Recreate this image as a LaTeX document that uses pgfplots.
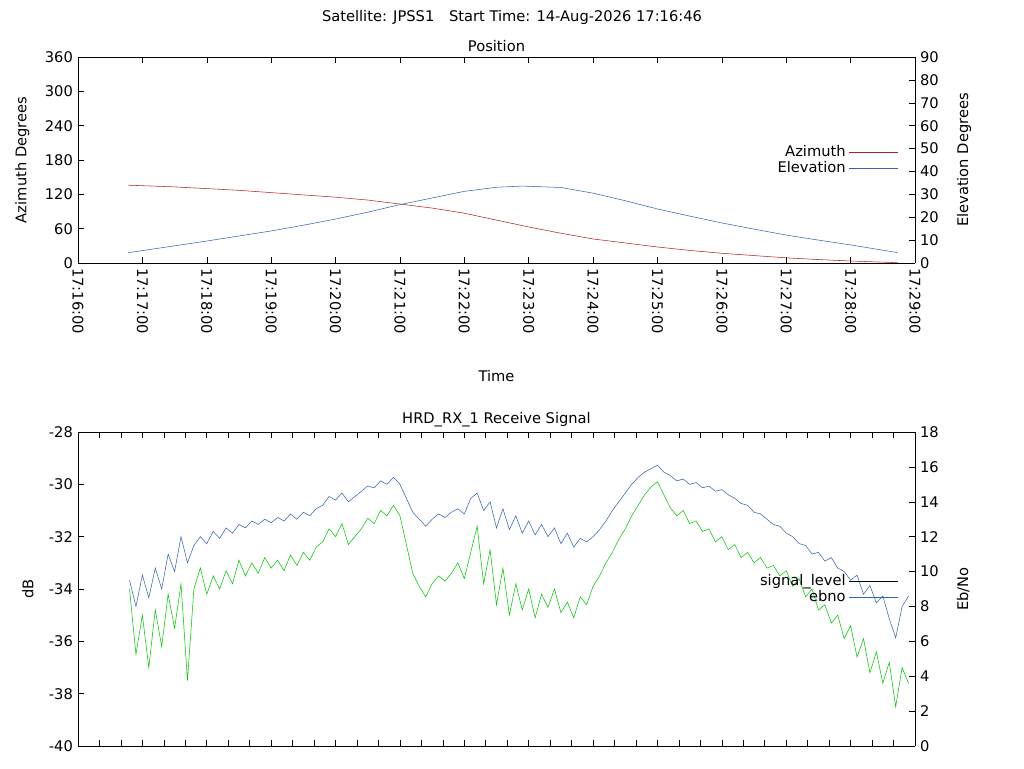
\documentclass[border=0pt]{standalone}
\usepackage{pgfplots}
\pgfplotsset{compat=1.18}
\usepackage{fontspec}
\setmainfont{DejaVu Sans}
\definecolor{az}{RGB}{178,34,34}
\definecolor{el}{RGB}{50,100,180}
\definecolor{gr}{RGB}{0,200,0}
\begin{document}
\fontsize{11}{13}\selectfont
\begin{tikzpicture}
\path (0,0) rectangle (768pt,576pt);
\node at (384pt,563pt) {Satellite: JPSS1\quad Start Time: 14-Aug-2026 17:16:46};
\pgfplotsset{every axis/.append style={scale only axis, width=627.75pt, xmin=0, xmax=13,
  tick style={black,thin}, font=\fontsize{11}{13}\selectfont,
  /pgf/number format/assume math mode=true, tick align=inside,
  legend image code/.code={\draw[#1] (0pt,0pt)--(37pt,0pt);}}}
% top
\begin{axis}[at={(58.5pt,378.75pt)}, height=154.5pt, ymin=0, ymax=360, ytick={0,60,...,360},
  axis y line*=left, xtick={0,...,13},
  xticklabels={17:16:00,17:17:00,17:18:00,17:19:00,17:20:00,17:21:00,17:22:00,17:23:00,17:24:00,17:25:00,17:26:00,17:27:00,17:28:00,17:29:00},
  xticklabel style={rotate=-90,anchor=west}, xlabel={Time}, xlabel style={yshift=-20pt},
  ylabel={Azimuth Degrees}, ylabel style={yshift=4pt}, title={Position}, title style={yshift=-6pt}]
\addplot[az, thin] coordinates {(0.78,136)(1.5,133)(2,130)(2.5,127)(3,123)(3.5,119)(4,115)(4.5,110)(5,103)(5.5,96)(6,87)(6.5,75)(7,63)(7.5,52)(8,42)(8.5,35)(9,28)(9.5,22)(10,17)(10.5,13)(11,9)(11.5,6)(12,3.5)(12.5,1.5)(12.73,0.5)};
\end{axis}
\begin{axis}[at={(58.5pt,378.75pt)}, height=154.5pt, ymin=0, ymax=90, ytick={0,10,...,90},
  axis y line*=right, axis x line=none, ylabel={Elevation Degrees}, ylabel style={yshift=-6pt},
  legend style={draw=none, fill=none, at={(0.985,0.5)}, anchor=east, font=\fontsize{11}{13}\selectfont, row sep=-2pt},
  legend cell align=right, legend plot pos=right]
\addlegendimage{az, thin}\addlegendentry{Azimuth}
\addplot[el, thin] coordinates {(0.78,4.5)(1.5,7.5)(2,9.6)(2.5,11.8)(3,14)(3.5,16.5)(4,19.2)(4.5,22.2)(5,25.5)(5.5,28.4)(6,31.3)(6.5,33.1)(6.9,33.6)(7.5,33)(8,30.5)(8.5,27.2)(9,23.6)(9.5,20.5)(10,17.5)(10.5,14.8)(11,12.2)(11.5,10)(12,7.9)(12.5,5.6)(12.73,4.5)};
\addlegendentry{Elevation}
\end{axis}
% bottom
\begin{axis}[at={(58.5pt,16.5pt)}, height=235.5pt, ymin=-40, ymax=-28, ytick={-40,-38,...,-28},
  axis y line*=left, xtick={0,0.3333,...,13.1}, xticklabels={}, ylabel={dB}, ylabel style={yshift=4pt},
  title={HRD\_RX\_1 Receive Signal}, title style={yshift=-6pt}]
\addplot[gr, thin] coordinates {(0.8,-34.0)(0.9,-36.5)(1.0,-35.0)(1.1,-37.0)(1.2,-34.8)(1.3,-36.2)(1.4,-34.2)(1.5,-35.5)(1.6,-33.8)(1.7,-37.5)(1.8,-34.0)(1.9,-33.2)(2.0,-34.2)(2.1,-33.5)(2.2,-34.0)(2.3,-33.3)(2.4,-33.8)(2.5,-32.9)(2.6,-33.5)(2.7,-33.0)(2.8,-33.4)(2.9,-32.8)(3.0,-33.2)(3.1,-32.9)(3.2,-33.3)(3.3,-32.7)(3.4,-33.1)(3.5,-32.6)(3.6,-32.9)(3.7,-32.4)(3.8,-32.2)(3.9,-31.7)(4.0,-32.0)(4.1,-31.5)(4.2,-32.3)(4.3,-32.0)(4.4,-31.7)(4.5,-31.3)(4.6,-31.5)(4.7,-31.0)(4.8,-31.2)(4.9,-30.8)(5.0,-31.2)(5.1,-32.3)(5.2,-33.4)(5.3,-33.9)(5.4,-34.3)(5.5,-33.8)(5.6,-33.5)(5.7,-33.7)(5.8,-33.4)(5.9,-33.0)(6.0,-33.6)(6.1,-32.6)(6.2,-31.6)(6.3,-33.8)(6.4,-32.5)(6.5,-34.6)(6.6,-33.2)(6.7,-35.0)(6.8,-33.8)(6.9,-34.8)(7.0,-34.0)(7.1,-35.1)(7.2,-34.2)(7.3,-34.7)(7.4,-34.0)(7.5,-34.9)(7.6,-34.5)(7.7,-35.1)(7.8,-34.3)(7.9,-34.6)(8.0,-33.9)(8.1,-33.5)(8.2,-33.0)(8.3,-32.6)(8.4,-32.1)(8.5,-31.7)(8.6,-31.2)(8.7,-30.8)(8.8,-30.4)(8.9,-30.1)(9.0,-29.9)(9.1,-30.4)(9.2,-30.9)(9.3,-31.2)(9.4,-31.0)(9.5,-31.5)(9.6,-31.4)(9.7,-31.8)(9.8,-31.7)(9.9,-32.2)(10.0,-32.0)(10.1,-32.5)(10.2,-32.3)(10.3,-32.8)(10.4,-32.6)(10.5,-33.0)(10.6,-32.8)(10.7,-33.2)(10.8,-33.1)(10.9,-33.5)(11.0,-33.3)(11.1,-33.9)(11.2,-33.6)(11.3,-34.3)(11.4,-34.0)(11.5,-34.8)(11.6,-34.6)(11.7,-35.3)(11.8,-35.0)(11.9,-35.9)(12.0,-35.4)(12.1,-36.6)(12.2,-35.9)(12.3,-37.2)(12.4,-36.4)(12.5,-37.6)(12.6,-36.8)(12.7,-38.5)(12.8,-37.0)(12.9,-37.6)};
\end{axis}
\begin{axis}[at={(58.5pt,16.5pt)}, height=235.5pt, ymin=0, ymax=18, ytick={0,2,...,18},
  axis y line*=right, axis x line=none, ylabel={Eb/No}, ylabel style={yshift=-6pt},
  legend style={draw=none, fill=none, at={(0.985,0.5)}, anchor=east, font=\fontsize{11}{13}\selectfont, row sep=-2pt},
  legend cell align=right, legend plot pos=right]
\addlegendimage{black, thin}\addlegendentry{signal\_level}
\addplot[el, thin] coordinates {(0.8,9.5)(0.9,8.0)(1.0,9.8)(1.1,8.5)(1.2,10.2)(1.3,9.0)(1.4,11.0)(1.5,10.0)(1.6,12.0)(1.7,10.5)(1.8,11.5)(1.9,12.0)(2.0,11.6)(2.1,12.3)(2.2,11.9)(2.3,12.5)(2.4,12.2)(2.5,12.7)(2.6,12.5)(2.7,12.9)(2.8,12.7)(2.9,13.0)(3.0,12.8)(3.1,13.1)(3.2,12.9)(3.3,13.3)(3.4,13.0)(3.5,13.4)(3.6,13.2)(3.7,13.6)(3.8,13.8)(3.9,14.3)(4.0,14.1)(4.1,14.5)(4.2,14.0)(4.3,14.3)(4.4,14.6)(4.5,14.9)(4.6,14.8)(4.7,15.2)(4.8,15.0)(4.9,15.4)(5.0,15.0)(5.1,14.2)(5.2,13.4)(5.3,13.0)(5.4,12.6)(5.5,13.0)(5.6,13.3)(5.7,13.1)(5.8,13.4)(5.9,13.6)(6.0,13.3)(6.1,14.2)(6.2,14.5)(6.3,13.5)(6.4,14.0)(6.5,12.5)(6.6,13.6)(6.7,12.4)(6.8,13.2)(6.9,12.2)(7.0,12.9)(7.1,12.1)(7.2,12.7)(7.3,12.0)(7.4,12.5)(7.5,11.6)(7.6,12.2)(7.7,11.4)(7.8,11.9)(7.9,11.7)(8.0,12.0)(8.1,12.4)(8.2,12.9)(8.3,13.5)(8.4,14.0)(8.5,14.5)(8.6,15.0)(8.7,15.4)(8.8,15.7)(8.9,15.9)(9.0,16.1)(9.1,15.7)(9.2,15.5)(9.3,15.2)(9.4,15.3)(9.5,15.0)(9.6,15.1)(9.7,14.8)(9.8,14.9)(9.9,14.6)(10.0,14.7)(10.1,14.4)(10.2,14.2)(10.3,13.9)(10.4,13.8)(10.5,13.4)(10.6,13.3)(10.7,13.0)(10.8,12.7)(10.9,12.6)(11.0,12.2)(11.1,12.0)(11.2,11.6)(11.3,11.5)(11.4,11.0)(11.5,11.1)(11.6,10.6)(11.7,10.8)(11.8,10.2)(11.9,10.0)(12.0,9.5)(12.1,9.8)(12.2,8.7)(12.3,9.2)(12.4,8.2)(12.5,8.6)(12.6,7.3)(12.7,6.2)(12.8,8.0)(12.9,8.6)};
\addlegendentry{ebno}
\end{axis}
\end{tikzpicture}
\end{document}
